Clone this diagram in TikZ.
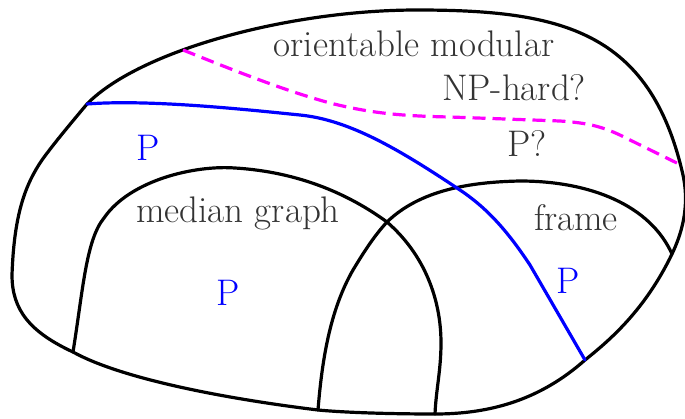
\documentclass[tikz,border=0pt]{standalone}
\definecolor{mag}{RGB}{255,0,255}
\definecolor{blu}{RGB}{0,0,255}
\definecolor{txtgray}{RGB}{51,51,51}
\begin{document}
\begin{tikzpicture}[x=1pt,y=-1pt,
  edge/.style={line width=3.2pt,line join=round,line cap=round},
  txt/.style={text=txtgray,font=\fontsize{37}{41}\selectfont,inner sep=0pt},
  ptxt/.style={text=blu,font=\fontsize{37}{41}\selectfont,inner sep=0pt}]
\useasboundingbox (0,0) rectangle (685,418);
\coordinate (bl) at (87,104);
\coordinate (ml) at (73,352);
\coordinate (fr) at (672,254);
\coordinate (mb) at (435,414);
\coordinate (fb) at (318,410);
\coordinate (be) at (585,360);
\coordinate (ms) at (183,50);
\coordinate (me) at (683,166);
% outer boundary
\draw[edge] (bl) .. controls (140,50) and (290,10) .. (417,10)
  .. controls (560,10) and (650,30) .. (683,175)
  .. controls (690,208) and (681,235) .. (fr)
  .. controls (645,310) and (610,340) .. (be)
  .. controls (540,400) and (490,414) .. (mb)
  .. controls (400,414) and (350,413) .. (fb)
  .. controls (220,398) and (120,378) .. (ml)
  .. controls (30,332) and (12,310) .. (12,275)
  .. controls (14,215) and (25,185) .. (42,160)
  .. controls (55,142) and (72,122) .. (bl);
% median graph arc
\draw[edge] (ml) .. controls (83,290) and (86,240) .. (104,218)
  .. controls (130,180) and (195,165) .. (235,168)
  .. controls (300,172) and (350,195) .. (387,222)
  .. controls (425,255) and (441,300) .. (441,343)
  .. controls (441,370) and (436,390) .. (mb);
% frame arc
\draw[edge] (fb) .. controls (322,360) and (330,310) .. (353,270)
  .. controls (365,250) and (375,235) .. (387,222)
  .. controls (420,190) and (470,182) .. (520,181)
  .. controls (590,181) and (650,205) .. (fr);
% blue
\draw[edge,blu] (bl) .. controls (150,99) and (250,110) .. (300,115)
  .. controls (350,120) and (400,150) .. (460,190)
  .. controls (490,210) and (510,235) .. (530,265) -- (be);
% magenta dashed
\draw[edge,mag,line cap=butt,dash pattern=on 13pt off 7pt] (ms)
  .. controls (250,77) and (290,92) .. (330,103)
  .. controls (370,113) and (400,116) .. (450,117) -- (560,121)
  .. controls (590,123) and (605,127) .. (630,140) -- (me);
\node[txt] (om) at (414,44) {orientable modular};
\node[txt] (np) at (514,88) {NP-hard?};
\node[txt] (pq) at (527,144) {P?};
\node[ptxt] (p1) at (148,148) {P};
\node[txt] (mg) at (238,213) {median graph};
\node[ptxt] (p2) at (228,293) {P};
\node[txt] (fm) at (576,218) {frame};
\node[ptxt] (p3) at (568,281) {P};
\end{tikzpicture}
\end{document}
